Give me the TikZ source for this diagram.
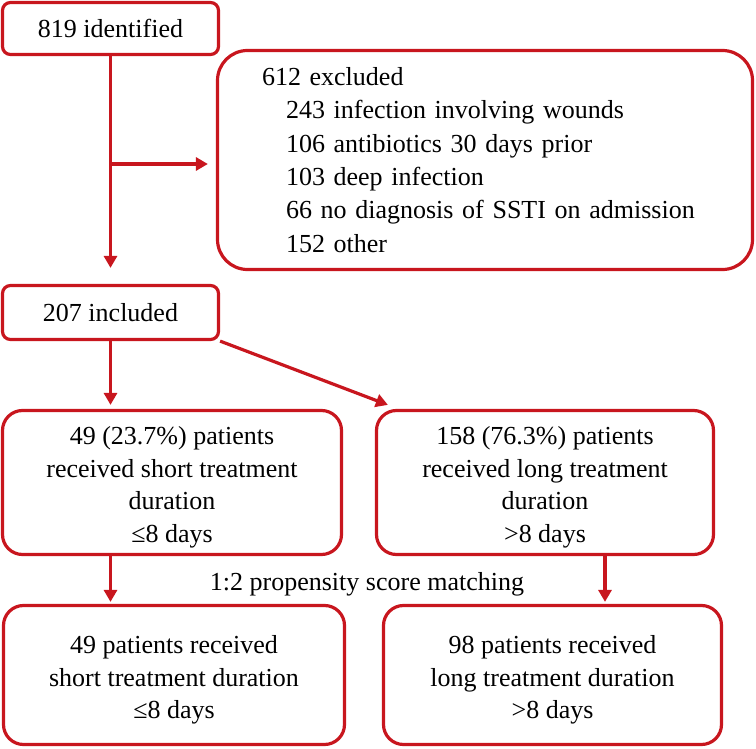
\documentclass[tikz,border=0pt]{standalone}
\usepackage{fontspec}
\setmainfont{Liberation Serif}
\usetikzlibrary{arrows.meta}
\definecolor{cred}{RGB}{200,22,30}
\newcommand\topstrutx{\rule{0pt}{28pt}}
\begin{document}
\begin{tikzpicture}[x=1pt,y=-1pt,
  box/.style={draw=cred, line width=3.2pt, rounded corners=8pt, inner sep=0pt, align=center, font=\fontsize{26}{32.5}\selectfont},
  arr/.style={draw=cred, line width=3.2pt, -{Triangle[length=12pt,width=13pt]}},
  lbl/.style={inner sep=0pt, font=\fontsize{26}{32.5}\selectfont}]
\useasboundingbox (0,0) rectangle (756,749);

\node[box, minimum width=216pt, minimum height=52pt] (ident) at (110.5,28.5) {819 identified};
\node[box, rounded corners=30pt, minimum width=535pt, minimum height=219pt, text width=446pt, align=left, font=\fontsize{26}{33.4}\selectfont] (excl) at (485,160)
 {612 excluded\\
  \hspace*{24pt}243 infection involving wounds\\
  \hspace*{24pt}106 antibiotics 30 days prior\\
  \hspace*{24pt}103 deep infection\\
  \hspace*{24pt}66 no diagnosis of SSTI on admission\\
  \hspace*{24pt}152 other};
\node[box, minimum width=216pt, minimum height=54pt] (incl) at (110.5,312.5) {207 included};

\node[box, rounded corners=20pt, minimum width=339pt, minimum height=144pt] (L) at (172,482.5)
 {\topstrutx 49 (23.7\%) patients\\ received short treatment\\ duration\\ ≤8 days};
\node[box, rounded corners=20pt, minimum width=337pt, minimum height=144pt] (R) at (545,482.5)
 {\topstrutx 158 (76.3\%) patients\\ received long treatment\\ duration\\ >8 days};

\node[box, rounded corners=20pt, minimum width=341pt, minimum height=139pt] (BL) at (174,675)
 {\topstrutx 49 patients received\\ short treatment duration\\ ≤8 days};
\node[box, rounded corners=20pt, minimum width=338pt, minimum height=139pt] (BR) at (552.5,675)
 {\topstrutx 98 patients received\\ long treatment duration\\ >8 days};

\node[lbl] (psm) at (367,584) {1:2 propensity score matching};

\coordinate (lx) at (110.5,0);
\coordinate (rx) at (605,0);
\coordinate (br) at (110.5,164);

\draw[arr, shorten >=16pt] (ident.south) -- (incl.north);
\draw[arr, shorten >=8pt] (br) -- (br -| excl.west);
\draw[arr, shorten >=4pt] (incl.south) -- (incl.south |- L.north);
\coordinate (dt) at ([xshift=13pt,yshift=4pt]R.north west);
\draw[arr] (incl.south east) -- (dt);
\draw[arr, shorten >=2pt] (L.south -| lx) -- (BL.north -| lx);
\draw[arr, shorten >=2pt] (R.south -| rx) -- (BR.north -| rx);
\end{tikzpicture}
\end{document}
